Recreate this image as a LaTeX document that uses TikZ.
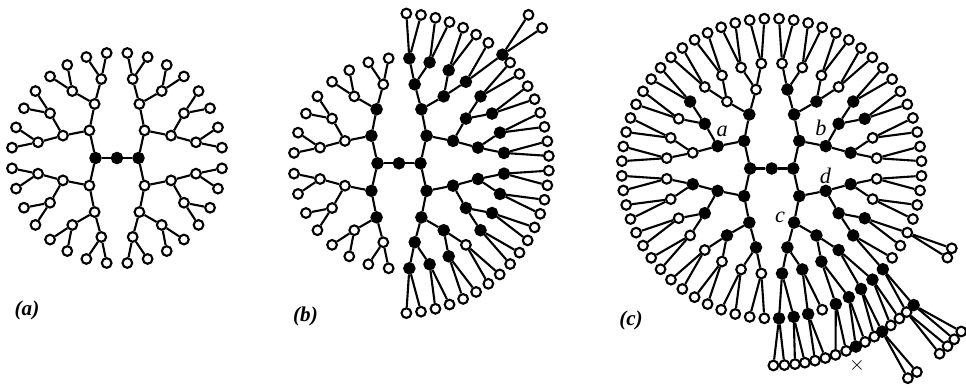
\documentclass[tikz,border=0pt]{standalone}
\usepackage{fontspec}
\setmainfont{Liberation Serif}
\usetikzlibrary{calc}

\tikzset{
  bond/.style={line width=1.8pt},
  osite/.style={circle, draw, fill=white, line width=1.8pt, inner sep=0pt, minimum size=0.29cm},
  dsite/.style={osite, path picture={\fill (path picture bounding box.center) circle (0.06cm);}},
  bsite/.style={circle, draw, fill=black, line width=1.8pt, inner sep=0pt, minimum size=0.31cm},
  panel/.style={font=\fontsize{18}{20}\selectfont\bfseries\itshape},
  tag/.style={font=\fontsize{19}{20}\selectfont\itshape}
}

% radius and half-spread of the children, by generation
\def\brR{{21.5,39,58.5,80.5,105.5,150,197,250}}
\def\brO{{45,22.5,11.25,5.625,2.8125,1.5,1.25,1}}
\newcount\brcount
\def\brpop{\expandafter\brpopx\brstr\relax}
\def\brpopx#1 #2\relax{\gdef\brword{#1}\gdef\brstr{#2}}
\def\brparse#1#2\relax{\def\brtype{#1}\def\brang{#2}}
% #1 parent, #2 angle, #3 generation
\def\brgrow#1#2#3{%
  \brpop
  \expandafter\brparse\brword\relax
  \ifx\brang\empty\def\brang{#2}\fi
  \global\advance\brcount by 1
  \edef\brme{s\the\brcount}%
  \pgfmathsetmacro\brrad{\brR[#3]}%
  \def\brint{0}%
  \if\brtype B\def\brsty{bsite}\def\brint{1}\fi
  \if\brtype D\def\brsty{dsite}\def\brint{1}\fi
  \if\brtype O\def\brsty{osite}\def\brint{1}\fi
  \if\brtype b\def\brsty{bsite}\fi
  \if\brtype d\def\brsty{dsite}\fi
  \if\brtype o\def\brsty{osite}\fi
  \edef\brnode{\noexpand\node[\brsty] (\brme) at ($(\brcen)+(\brang:\brrad)$) {};}%
  \brnode
  \draw[bond] (#1) -- (\brme);
  \ifnum\brint=1
    \pgfmathsetmacro\broff{\brO[#3]}%
    \pgfmathsetmacro\brlo{\brang-\broff}%
    \pgfmathsetmacro\brhi{\brang+\broff}%
    \edef\brgen{\the\numexpr#3+1\relax}%
    \edef\brdo{\begingroup\noexpand\brgrow{\brme}{\brlo}{\brgen}\endgroup
      \begingroup\noexpand\brgrow{\brme}{\brhi}{\brgen}\endgroup}%
  \else
    \let\brdo\relax
  \fi
  \brdo}

\begin{document}
\begin{tikzpicture}[x=0.03cm, y=0.03cm]
  \fill[white] (0,0) rectangle (966,388);
  \useasboundingbox (0,0) rectangle (966,388);

  % (a)
  \node[bsite] (aM) at (117,230) {};
  \def\brcen{aM}
  \def\brstr{B D O O o o O o o O O o o O o o D D O o o D o o D O o o O o o }
  \brgrow{aM}{180}{0}
  \def\brstr{B D D O o o O o o O O o o O o o D D O o o O o o D O o o O o o }
  \brgrow{aM}{0}{0}

  % (b)
  \node[bsite] (bM) at (399,224.7) {};
  \def\brcen{bM}
  \def\brstr{B B B O o o O o o D O o o O o o B D O o o O o o B D o o D o o }
  \brgrow{bM}{180}{0}
  \def\brstr{B B B B B d d B d d B B o d D o o B B B o o B o o B B o o B d d
    B B B B d d B d d B B d d B o d B B B B46.4 o43.4 o48.9 d B d d B B d d B d d }
  \brgrow{bM}{0}{0}

  % (c)
  \node[bsite] (cM) at (771.7,219.5) {};
  \def\brcen{cM}
  \def\brstr{B B B D O o o D o o D D o o O o o B B B d o O o o D O o o O o o
    B B B D o o D o o B D o o D o o B B D o o D o o B D o o D o o }
  \brgrow{cM}{180}{0}
  \def\brstr{B B B B B B d-89.5 o-86.3 B o-83.2 o-80.3 B B o-77.3 o-74.2 d
    B B B d-71.1 d-67.8 B b-64.7 d-61.7 B B d-58.6 B-55.9 d-57 d-54.5 B d-52.8 d-49.6
    B B B B D-46.8 o-47.8 o-45.3 B-43.9 d-43.1 d-40.7 d B d D o-26.9 o-23.9 B O o o D o o
    B B B D o o O o o B B d d B o o B B D o o D o o B D o o D o o }
  \brgrow{cM}{0}{0}

  \node[panel] (la) at (27,78) {(a)};
  \node[panel] (lb) at (305.5,72) {(b)};
  \node[panel] (lc) at (631,68) {(c)};
  \node[tag] (ta) at (722.3,256.3) {a};
  \node[tag] (tb) at (821,259.7) {b};
  \node[tag] (tc) at (780,170.3) {c};
  \node[tag] (td) at (825.5,212) {d};
  \node[font=\fontsize{16}{16}\selectfont] (tx) at (857,23) {$\times$};
\end{tikzpicture}
\end{document}
